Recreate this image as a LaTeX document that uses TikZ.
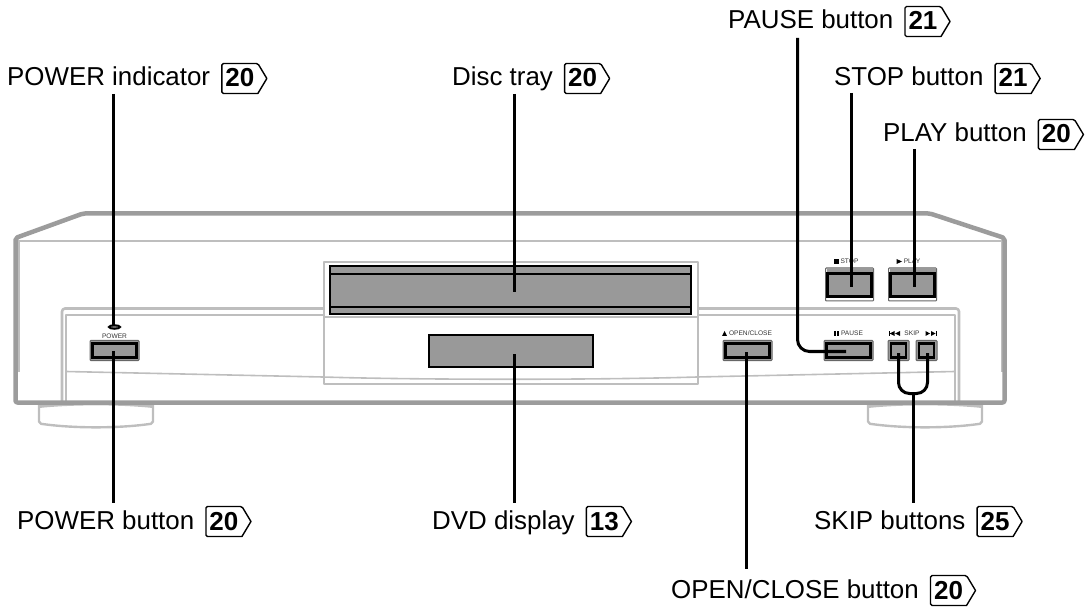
\documentclass[tikz,border=0pt]{standalone}
\usepackage{fontspec}
\usetikzlibrary{shapes.geometric}
\setmainfont{Liberation Sans}
\definecolor{panelgray}{HTML}{999999}
\definecolor{bodygray}{HTML}{9C9C9C}
\definecolor{lightline}{HTML}{BEBEBE}
\definecolor{smalltext}{HTML}{333333}
\tikzset{
  callout/.style={anchor=base west,inner sep=0pt,font=\fontsize{25.9}{26}\selectfont},
  pagenum/.style={inner sep=0pt,anchor=base,font=\fontsize{26}{26}\selectfont\bfseries},
  pagebox/.style={draw=black,line width=1.4pt,line join=round,fill=white},
  leader/.style={draw=black,line width=3pt,line cap=butt},
  bodyline/.style={draw=bodygray,line width=4.5pt,line join=round},
  panelline/.style={draw=lightline,line width=2pt,line join=round},
  darkbox/.style={draw=black,line width=2pt,fill=panelgray},
  outerbtn/.style={draw=black!60,line width=1pt,fill=panelgray,rounded corners=0.8pt,inner sep=0pt},
  innerbtn/.style={draw=black,line width=2.2pt,fill=panelgray,inner sep=0pt},
  tinylabel/.style={inner sep=0pt,anchor=base,text=smalltext,font=\fontsize{6.6}{7}\selectfont},
  glyph/.style={fill=black,draw=none},
}
\newcommand{\pagetag}[2]{%
  \begin{scope}[shift={(#1.base east)}]
    \draw[pagebox] (11.5,-7.5) [rounded corners=1.5pt] -- (11.5,-22.5) -- (47.5,-22.5) [sharp corners] -- (56.5,-7.5) -- (47.5,7.5) [rounded corners=1.5pt] -- (11.5,7.5) -- cycle;
    \node[pagenum] (#1num) at (29.5,1) {#2};
  \end{scope}}
\newcommand{\footshape}[1]{%
  \begin{scope}[shift={(#1,0)}]
    \fill[lightline] (0,402) -- (114,402) -- (114,408) .. controls (80,404.5) and (34,404.5) .. (0,408) -- cycle;
    \draw[panelline,line width=2.4pt,rounded corners=2pt] (0,403) -- (0,423.5) .. controls (34,428.5) and (80,428.5) .. (114,423.5) -- (114,403);
  \end{scope}}
\begin{document}
\begin{tikzpicture}[x=1pt,y=-1pt]
\useasboundingbox (0,0) rectangle (1089,609);
% feet
\footshape{39}
\footshape{868}
% lower panel
\draw[panelline,line width=2.6pt,rounded corners=3pt] (62,402) -- (62,308.5) -- (959,308.5) -- (959,402);
\draw[panelline] (66,402) -- (66,315) -- (955,315) -- (955,402);
\draw[panelline,line width=1.6pt] (66,371.5) -- (323,377) .. controls (420,380) and (600,380) .. (697,377) -- (955,371.5);
% body
\draw[panelline] (18,241.5) -- (1003,241.5);
\draw[panelline] (18.5,241) -- (18.5,372);
\draw[panelline] (1001.5,241) -- (1001.5,372);
\draw[bodyline,rounded corners=2pt] (83,213.5) -- (930,213.5) -- (1004.5,238) -- (1004.5,402.5) -- (15.5,402.5) -- (15.5,238) -- cycle;
% centre frame and tray
\draw[panelline,fill=white] (323.5,262) rectangle (697.5,317);
\draw[panelline] (323.5,317) -- (323.5,383.5) -- (697.5,383.5) -- (697.5,317);
\node[darkbox,minimum width=361pt,minimum height=48pt,inner sep=0pt] (tray) at (510.5,290) {};
\draw[black,line width=2pt] (tray.west |- 0,274.5) -- (tray.east |- 0,274.5);
\draw[black,line width=2.4pt] (tray.west |- 0,307) -- (tray.east |- 0,307);
\node[darkbox,minimum width=164pt,minimum height=31pt,inner sep=0pt] (display) at (510.5,351) {};
% indicator
\node[ellipse,draw=black,line width=2pt,fill=panelgray,minimum width=11pt,minimum height=3.5pt,inner sep=0pt] (indicator) at (114.5,327) {};
% flat buttons
\node[outerbtn,minimum width=49pt,minimum height=20pt] (powerbtn) at (114.5,350.5) {};
\node[innerbtn,minimum width=44pt,minimum height=14pt] at (114.5,350.5) {};
\node[outerbtn,minimum width=49pt,minimum height=20pt] (openbtn) at (747.5,350.5) {};
\node[innerbtn,minimum width=44pt,minimum height=14pt] at (747.5,350.5) {};
\node[outerbtn,minimum width=49pt,minimum height=20pt] (pausebtn) at (848.5,350.5) {};
\node[innerbtn,minimum width=44pt,minimum height=14pt] at (848.5,350.5) {};
\node[outerbtn,minimum width=21pt,minimum height=20pt] (skipa) at (898.5,350.5) {};
\node[innerbtn,minimum width=15pt,minimum height=14pt] at (898.5,350.5) {};
\node[outerbtn,minimum width=21pt,minimum height=20pt] (skipb) at (926.5,350.5) {};
\node[innerbtn,minimum width=15pt,minimum height=14pt] at (926.5,350.5) {};
% raised buttons
\node[outerbtn,minimum width=48pt,minimum height=33pt,fill=white] (stopbtn) at (849.5,284.5) {};
\fill[panelgray] (826.5,268.5) rectangle (872.5,273);
\node[innerbtn,minimum width=44pt,minimum height=23pt] at (849.5,285) {};
\node[outerbtn,minimum width=48pt,minimum height=33pt,fill=white] (playbtn) at (912.5,284.5) {};
\fill[panelgray] (889.5,268.5) rectangle (935.5,273);
\node[innerbtn,minimum width=44pt,minimum height=23pt] at (912.5,285) {};
% tiny printed labels
\node[tinylabel] (powertxt) at (114.5,339) {POWER};
\node[tinylabel] (stoptxt) at (849.5,264) {STOP};
\fill[glyph] (834,259) rectangle (839,264);
\node[tinylabel] (playtxt) at (912,264) {PLAY};
\fill[glyph] (896.5,259) -- (902,261.5) -- (896.5,264) -- cycle;
\node[tinylabel] (opentxt) at (750.5,336) {OPEN/CLOSE};
\fill[glyph] (722,336) -- (727,336) -- (724.5,331) -- cycle;
\node[tinylabel] (pausetxt) at (852,336) {PAUSE};
\fill[glyph] (834,331) rectangle (836,336);
\fill[glyph] (837.3,331) rectangle (839.3,336);
\node[tinylabel] (skiptxt) at (912,336) {SKIP};
\fill[glyph] (888.5,331) rectangle (889.6,336);
\fill[glyph] (894.5,331) -- (889.6,333.5) -- (894.5,336) -- cycle;
\fill[glyph] (900,331) -- (895,333.5) -- (900,336) -- cycle;
\fill[glyph] (925.5,331) -- (930,333.5) -- (925.5,336) -- cycle;
\fill[glyph] (931,331) -- (935.5,333.5) -- (931,336) -- cycle;
\fill[glyph] (935.5,331) rectangle (937,336);
% callouts
\node[callout] (lpause) at (728,29) {PAUSE button};
\pagetag{lpause}{21}
\node[callout] (lstop) at (834,86) {STOP button};
\pagetag{lstop}{21}
\node[callout] (lplay) at (883,142) {PLAY button};
\pagetag{lplay}{20}
\node[callout] (lindicator) at (7,86) {POWER indicator};
\pagetag{lindicator}{20}
\node[callout] (ltray) at (452,86) {Disc tray};
\pagetag{ltray}{20}
\node[callout] (lpower) at (17,529) {POWER button};
\pagetag{lpower}{20}
\node[callout] (ldisplay) at (432,529) {DVD display};
\pagetag{ldisplay}{13}
\node[callout] (lskip) at (814,529) {SKIP buttons};
\pagetag{lskip}{25}
\node[callout] (lopen) at (671,598) {OPEN/CLOSE button};
\pagetag{lopen}{20}
% connector ends
\coordinate (a1) at (113.5,94); \coordinate (a2) at (113.5,325);
\coordinate (b1) at (113.5,351); \coordinate (b2) at (113.5,503);
\coordinate (c1) at (514.5,94); \coordinate (c2) at (514.5,292);
\coordinate (d1) at (514.5,354); \coordinate (d2) at (514.5,503);
\coordinate (e1) at (746.5,352); \coordinate (e2) at (746.5,569);
\coordinate (f1) at (797.5,38); \coordinate (f2) at (797.5,351.5); \coordinate (f3) at (846,351.5);
\coordinate (g1) at (851.5,93); \coordinate (g2) at (851.5,287);
\coordinate (h1) at (914.5,149); \coordinate (h2) at (914.5,287);
\coordinate (i1) at (898.5,353); \coordinate (i2) at (927.5,353); \coordinate (i3) at (913.5,393.5); \coordinate (i4) at (913.5,503);
% connectors
\draw[leader] (a1) -- (a2);
\draw[leader] (b1) -- (b2);
\draw[leader] (c1) -- (c2);
\draw[leader] (d1) -- (d2);
\draw[leader] (e1) -- (e2);
\draw[leader,rounded corners=12pt] (f1) -- (f2) -- (f3);
\draw[leader] (g1) -- (g2);
\draw[leader] (h1) -- (h2);
\draw[leader,rounded corners=11pt] (i1) -- (i1 |- i3) -- (i2 |- i3) -- (i2);
\draw[leader] (i3) -- (i4);
\end{tikzpicture}
\end{document}
